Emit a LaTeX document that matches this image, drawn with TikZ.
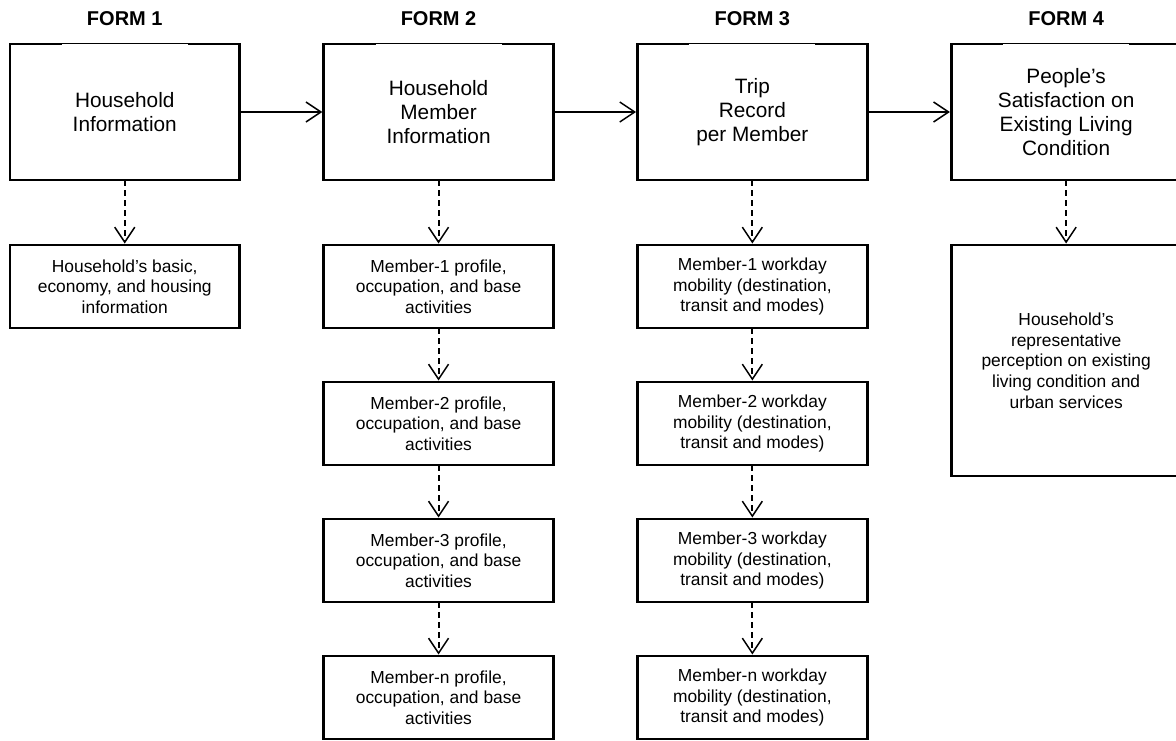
\documentclass[tikz,border=0pt]{standalone}
\usepackage{fontspec}
\setmainfont{Liberation Sans}
\usetikzlibrary{arrows.meta}
\usetikzlibrary{positioning}

\begin{document}
\begin{tikzpicture}
          [x=1pt, y=-1pt,
           >={Straight Barb[length=15pt, width=20pt, line width=1.5pt]},
           form/.style={draw, line width=2.8pt, outer sep=0pt, minimum width=229.5pt, minimum height=136pt,
             align=center, font=\fontsize{20.8}{24}\selectfont},
           item/.style={draw, line width=2.8pt, outer sep=0pt, minimum width=229.5pt, minimum height=83pt,
             align=center, font=\fontsize{17.4}{20.7}\selectfont},
           title/.style={inner sep=0pt, font=\bfseries\fontsize{20}{24}\selectfont},
           flow/.style={->, line width=1.2pt, shorten >=1.5pt},
           link/.style={->, line width=2pt, dash pattern=on 6pt off 4pt, shorten >=1.5pt}]
          \useasboundingbox (0,0) rectangle (1176,740);
          \clip (0,0) rectangle (1176,740);

          % main forms
          \node (f1) [form] at (124.75,112) {Household\\Information};
          \node (f2) [form, right = 84.3pt of f1] {Household\\Member\\Information};
          \node (f3) [form, right = 84.3pt of f2] {Trip\\Record\\per Member};
          \node (f4) [form, right = 84.3pt of f3] {People’s\\Satisfaction on\\Existing Living\\Condition};

          \node (t1) [title, above = 18pt of f1] {FORM 1};
          \node (t2) [title, above = 18pt of f2] {FORM 2};
          \node (t3) [title, above = 18pt of f3] {FORM 3};
          \node (t4) [title, above = 18pt of f4] {FORM 4};

          % thin tab on top of each form
          \draw[white, line width=4pt] ([xshift=-63pt]f1.north) -- ([xshift=63pt]f1.north);
          \draw[white, line width=4pt] ([xshift=-63pt]f2.north) -- ([xshift=63pt]f2.north);
          \draw[white, line width=4pt] ([xshift=-63pt]f3.north) -- ([xshift=63pt]f3.north);
          \draw[white, line width=4pt] ([xshift=-63pt]f4.north) -- ([xshift=63pt]f4.north);
          \draw[line width=1pt] ([xshift=-63pt, yshift=1pt]f1.north) -- ([xshift=63pt, yshift=1pt]f1.north);
          \draw[line width=1pt] ([xshift=-63pt, yshift=1pt]f2.north) -- ([xshift=63pt, yshift=1pt]f2.north);
          \draw[line width=1pt] ([xshift=-63pt, yshift=1pt]f3.north) -- ([xshift=63pt, yshift=1pt]f3.north);
          \draw[line width=1pt] ([xshift=-63pt, yshift=1pt]f4.north) -- ([xshift=63pt, yshift=1pt]f4.north);

          % details
          \node (f1a) [item, below = 65pt of f1] {Household’s basic,\\economy, and housing\\information};

          \node (f2a) [item, below = 65pt of f2] {Member-1 profile,\\occupation, and base\\activities};
          \node (f2b) [item, below = 54pt of f2a] {Member-2 profile,\\occupation, and base\\activities};
          \node (f2c) [item, below = 54pt of f2b] {Member-3 profile,\\occupation, and base\\activities};
          \node (f2d) [item, below = 54pt of f2c] {Member-n profile,\\occupation, and base\\activities};

          \node (f3a) [item, below = 65pt of f3] {Member-1 workday\\mobility (destination,\\transit and modes)};
          \node (f3b) [item, below = 54pt of f3a] {Member-2 workday\\mobility (destination,\\transit and modes)};
          \node (f3c) [item, below = 54pt of f3b] {Member-3 workday\\mobility (destination,\\transit and modes)};
          \node (f3d) [item, below = 54pt of f3c] {Member-n workday\\mobility (destination,\\transit and modes)};

          \node (f4a) [item, minimum height=231pt, below = 65pt of f4] {Household’s\\representative\\perception on existing\\living condition and\\urban services};

          \draw[flow] (f1) -- (f2);
          \draw[flow] (f2) -- (f3);
          \draw[flow] (f3) -- (f4);

          \draw[link] (f1) -- (f1a);
          \draw[link] (f2) -- (f2a);
          \draw[link] (f2a) -- (f2b);
          \draw[link] (f2b) -- (f2c);
          \draw[link] (f2c) -- (f2d);
          \draw[link] (f3) -- (f3a);
          \draw[link] (f3a) -- (f3b);
          \draw[link] (f3b) -- (f3c);
          \draw[link] (f3c) -- (f3d);
          \draw[link] (f4) -- (f4a);
        \end{tikzpicture}
\end{document}
